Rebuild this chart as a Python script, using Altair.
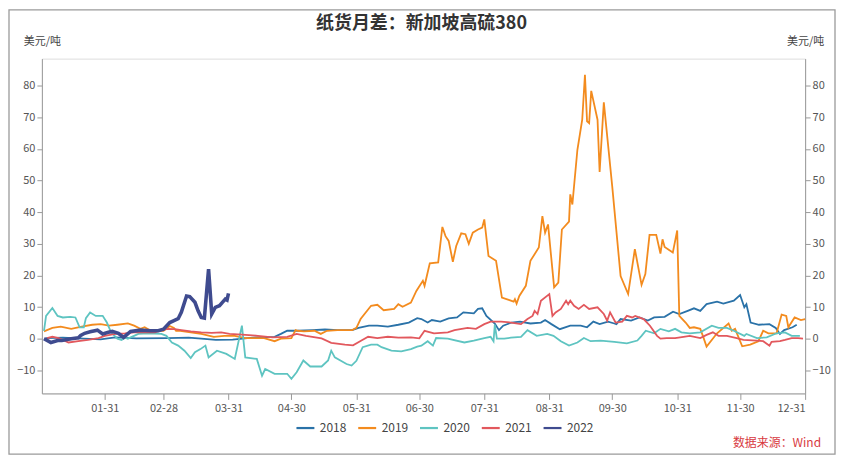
import altair as alt
import pandas as pd

# ---- data (day of year, 0 = Jan 1; value in USD/t) ----
days_2018 = [2, 10, 20, 28, 35, 45, 60, 70, 76, 83, 91, 98, 103, 111, 114, 117, 122, 129, 135, 141, 148, 151, 156, 160, 165, 170, 175, 179, 181, 184, 186, 190, 194, 198, 201, 206, 208, 210, 212, 216, 218, 220, 224, 228, 233, 238, 240, 243, 247, 252, 257, 260, 263, 266, 270, 273, 274, 276, 281, 285, 289, 292, 297, 301, 304, 308, 311, 314, 317, 322, 325, 330, 333, 335, 336, 338, 342, 347, 350, 352, 354, 358, 360]
vals_2018 = [0.2, 0.3, 0, -0.2, 0.4, 0.1, 0.2, 0.3, 0, -0.4, -0.3, 0.2, 0.4, 0.6, 1.5, 2.5, 2.5, 2.7, 2.9, 2.7, 2.7, 3.4, 4.1, 4.1, 3.8, 4.4, 5.1, 6.5, 6.2, 5.1, 5.9, 5.4, 6.4, 6.7, 8.3, 8.0, 9.4, 9.6, 7.2, 4.8, 2.7, 4.1, 5.1, 5.4, 4.8, 5.1, 5.9, 4.6, 3.0, 4.1, 4.1, 3.6, 5.4, 4.6, 5.4, 4.8, 4.6, 6.2, 5.7, 6.7, 5.7, 6.7, 6.9, 8.5, 7.8, 8.8, 9.6, 8.8, 10.9, 11.7, 11.1, 12.0, 13.8, 9.9, 10.9, 5.1, 4.4, 4.6, 3.4, 1.5, 2.7, 3.6, 4.4]

days_2019 = [1, 5, 9, 14, 19, 24, 28, 32, 36, 41, 44, 47, 49, 52, 58, 61, 63, 64, 66, 71, 76, 82, 87, 92, 97, 102, 106, 111, 114, 119, 121, 122, 125, 130, 133, 136, 141, 148, 150, 152, 157, 160, 163, 168, 170, 172, 176, 178.6, 181.7, 182.5, 185, 189, 191, 192.5, 194, 196, 197.6, 200, 202, 203.6, 205.5, 208, 210, 211, 213, 216.6, 219.4, 223, 225, 225.6, 226.4, 227.7, 230.8, 233, 237, 238.7, 240, 241.4, 244.3, 246.3, 248, 251.4, 252, 253, 255.4, 257.7, 259, 260, 261, 262, 265, 266, 268, 272, 276, 279.6, 282.8, 286, 287.8, 289.8, 293, 295, 296, 297, 300.9, 303, 304, 307, 309, 311, 314, 315.5, 317, 322, 327.5, 329, 330.6, 334, 337.8, 341.7, 344, 346.5, 350.4, 352.8, 355, 356, 359, 362, 364]
vals_2019 = [2.3, 3.4, 3.8, 3.1, 3.8, 4.4, 4.6, 4.1, 4.4, 4.8, 4.1, 3.1, 3.6, 2.5, 2.5, 4.0, 3.4, 2.5, 2.5, 2.0, 1.5, 0.6, 0.9, 0.9, 0.2, 0.2, 0.2, -0.8, 0, 0.2, 2.7, 2.5, 2.3, 2.5, 1.5, 2.5, 2.7, 2.7, 3.4, 6.2, 10.4, 10.7, 9.0, 9.4, 10.9, 10.1, 11.4, 15.1, 18.3, 16.7, 23.8, 24.1, 35.3, 32.4, 30.9, 24.3, 29.3, 33.3, 33, 30, 33.5, 34.5, 35.1, 37.7, 26.1, 24.6, 13, 12.2, 11.7, 12.5, 11.1, 13.5, 16.7, 24.6, 28.8, 38.7, 33.5, 36.1, 16.2, 17.7, 34.5, 37.0, 45.6, 42.4, 59.7, 69.2, 83.4, 68.7, 68.1, 78.3, 69.2, 52.7, 74.7, 48.2, 19.8, 14.1, 28.3, 17, 20.4, 32.8, 32.8, 26.9, 31.4, 29, 27.2, 34.2, 7.2, 5.1, 3.4, 3.6, 3.1, 0.4, -2.5, 1.7, 4.8, 2.5, 3.1, -2.4, -1.9, -0.8, 2.5, 1.7, 1.7, 7.6, 7.2, 3.6, 6.7, 5.9, 6.2]

days_2020 = [1, 2, 5, 7.5, 10, 13.5, 16, 18, 20, 21, 23, 25.7, 29, 31, 33, 36, 38, 39.6, 41, 46, 50.7, 57, 59.4, 62, 65, 68, 71, 73, 75.6, 78, 79.5, 83.5, 88, 92, 95.4, 97, 102.5, 105, 106.5, 111, 117, 119, 121.5, 124.7, 128, 133.4, 136.5, 138, 139.7, 145.3, 147.7, 150, 153, 157, 160, 162, 166.7, 171.4, 176, 179, 181, 184, 186.5, 188, 193.6, 201.5, 206, 211, 214, 215.4, 216, 217, 220.5, 223.7, 228.5, 231.6, 236, 241, 244, 247.5, 251.4, 255.4, 258.5, 261.7, 266.5, 273, 279, 284, 286, 288, 292, 295, 299, 302, 305, 309, 314, 319.5, 322.7, 326.7, 330, 335, 336, 341, 345.7, 350.4, 354.4, 357.6, 361.5]
vals_2020 = [2.5, 7.2, 9.7, 7.2, 6.7, 6.9, 6.7, 3.6, 3.6, 6.5, 8.3, 7.2, 7.2, 5.1, 2.0, 0, -0.4, 0.3, 0, 1.5, 1.7, 1.5, 0.9, -1.2, -2.2, -3.8, -6.1, -4.3, -3.3, -2.2, -5.9, -3.8, -4.8, -6.4, 4.1, -5.9, -6.4, -11.7, -9.6, -11.1, -11.1, -12.7, -10.6, -6.9, -8.8, -8.8, -6.9, -3.8, -5.9, -8.0, -8.5, -7.0, -2.7, -1.9, -1.9, -2.7, -3.8, -4.0, -3.3, -2.5, -2.2, -0.8, -2.2, 0.2, 0, -1.2, -0.6, 0.2, 0.6, -0.8, 4.4, 0, 0, 0.3, 0.6, 2.7, 0.9, 1.5, 0.9, -0.8, -2.2, -1.2, 0.2, -0.8, -0.6, -1.0, -1.5, -0.6, 0.9, 2.5, 1.7, 3.1, 2.3, 3.1, 2.0, 1.7, 2.0, 4.1, 3.4, 3.4, 2.5, 0.9, 1.5, 0.2, 0.4, 1.7, 2.0, 0.9, 0.9]

days_2021 = [2.4, 5, 8, 12.7, 17.4, 22, 27, 30, 35, 39.6, 44, 54, 56.6, 60, 63.4, 66.5, 71, 76, 81, 85.5, 89.5, 95.4, 103, 110, 117, 121.5, 126, 133.4, 138, 144.5, 148.4, 152.4, 155.6, 160, 165, 170, 176, 180, 182.5, 187, 193.6, 196.8, 203, 207, 211, 214, 219, 223.7, 228.5, 231.6, 234, 235, 236.4, 238, 242, 243.5, 245, 247.5, 250, 251, 252, 253.8, 256, 258.5, 261, 265, 268, 269.6, 271, 273.6, 276.8, 279, 281.5, 283, 287, 290, 293.4, 295, 298, 302, 306, 309, 314, 317, 320, 322.7, 326.7, 331.4, 334.6, 341, 344, 347, 348, 352, 354.4, 357.6, 360.7, 363]
vals_2021 = [0.2, 0.6, 0.2, -1.2, -0.8, -0.4, 0.2, 0.9, 1.5, 1.7, 2.0, 2.0, 2.6, 3.1, 3.0, 2.7, 2.3, 2.0, 1.8, 2.0, 1.5, 1.3, 0.9, 0.4, 0.6, 1.5, 0.9, 0.1, -1.3, -1.9, -2.1, -0.6, 0.6, 0.2, 0.6, 0.3, 0.4, 0.1, 2.5, 1.7, 2.0, 2.7, 3.4, 3.1, 4.6, 5.4, 5.4, 5.1, 4.6, 6.2, 7.2, 8.8, 7.8, 12.0, 14.1, 7.2, 8.3, 9.4, 12.0, 10.9, 12.0, 10.4, 9.4, 10.7, 9.4, 9.9, 7.8, 5.7, 8.3, 5.1, 5.4, 7.2, 6.7, 7.2, 6.2, 4.1, 0.9, 0, 0.2, 0.2, 0.6, 0.9, 0.2, 1.2, 2.0, 0.9, 0.9, 0.2, -0.4, -0.6, -0.8, -2.2, -1.0, -0.8, -0.4, 0.2, 0.2, 0]

days_2022 = [1, 4.3, 7.5, 9.5, 14, 17.4, 18.5, 20.4, 23, 26.5, 29, 31.7, 33.6, 36.5, 39, 42.3, 47, 51.8, 55.5, 58, 61, 63, 65, 66.5, 69, 70.5, 73, 74.5, 76, 77.5, 79.5, 81, 82.7, 84.7, 86, 87.5, 88.3, 89]
vals_2022 = [0, -1.2, -0.6, -0.6, 0, 0.3, 1.0, 1.7, 2.2, 2.7, 1.5, 2.0, 2.3, 1.7, 0.4, 2.3, 2.7, 2.5, 2.5, 3.0, 5.1, 5.7, 6.3, 8.3, 13.5, 13.3, 11.5, 8.8, 6.7, 6.5, 22, 7.8, 9.9, 10.4, 11.4, 12.5, 12.2, 14.3]

years = ["2018", "2019", "2020", "2021", "2022"]
colors = ["#2a72a8", "#f38b1e", "#5ec4c1", "#e2585d", "#3f4b8f"]

x_tick_days = [30, 58, 89, 119, 150, 180, 211, 242, 272, 303, 333, 364]
x_tick_labels = ["01-31", "02-28", "03-31", "04-30", "05-31", "06-30",
                 "07-31", "08-31", "09-30", "10-31", "11-30", "12-31"]
y_ticks = [-10, 0, 10, 20, 30, 40, 50, 60, 70, 80]

title_text = "纸货月差：新加坡高硫380"
unit_text = "美元/吨"
source_text = "数据来源：Wind"

# ---- build table ----
rows = []
for yr, ds, vs in zip(years, [days_2018, days_2019, days_2020, days_2021, days_2022],
                      [vals_2018, vals_2019, vals_2020, vals_2021, vals_2022]):
    for d, v in zip(ds, vs):
        rows.append({"year": yr, "day": d, "value": v})
df = pd.DataFrame(rows)

FONT = "Noto Sans CJK SC"
label_expr = "[" + ",".join("'%s'" % s for s in x_tick_labels) + "][indexof([" + \
    ",".join(str(d) for d in x_tick_days) + "], datum.value)]"

x_enc = alt.X("day:Q", scale=alt.Scale(domain=[0, 364], nice=False, zero=False),
              axis=alt.Axis(values=x_tick_days, labelExpr=label_expr, title=None, grid=False,
                            domainColor="#9a9a9a", tickColor="#9a9a9a", tickSize=6,
                            labelColor="#555555", labelFontSize=11, labelFont=FONT,
                            labelPadding=3))
y_scale = alt.Scale(domain=[-17.3, 88.5], nice=False, zero=False)

def y_axis(orient):
    return alt.Axis(orient=orient, values=y_ticks, grid=False, title=unit_text,
                    titleAngle=0, titleX=0, titleY=-12, titleAlign="center",
                    titleBaseline="bottom", titleFont=FONT, titleFontSize=11,
                    titleFontWeight="normal", titleColor="#444444",
                    domainColor="#9a9a9a", tickColor="#9a9a9a", tickSize=5,
                    labelColor="#555555", labelFontSize=11, labelFont=FONT, labelPadding=2)

color_enc = alt.Color("year:N", scale=alt.Scale(domain=years, range=colors),
                      legend=alt.Legend(orient="none", legendX=254, legendY=360,
                                        direction="horizontal", title=None,
                                        symbolType="stroke", symbolSize=324,
                                        symbolStrokeWidth=2.2, labelFont=FONT,
                                        labelFontSize=12, labelColor="#444444",
                                        labelOffset=4, columnPadding=7))

others = alt.Chart(df[df["year"] != "2022"]).mark_line(strokeWidth=1.8).encode(
    x=x_enc, y=alt.Y("value:Q", scale=y_scale, axis=y_axis("left")), color=color_enc,
    detail="year:N")
recent = alt.Chart(df[df["year"] == "2022"]).mark_line(strokeWidth=3.6).encode(
    x=x_enc, y=alt.Y("value:Q", scale=y_scale, axis=y_axis("left")), color=color_enc)
left = alt.layer(others, recent)

right = alt.Chart(df[df["year"] == "2022"]).mark_point(opacity=0).encode(
    x=x_enc, y=alt.Y("value:Q", scale=y_scale, axis=y_axis("right")))

src = alt.Chart(pd.DataFrame({"t": [source_text]})).mark_text(
    align="right", baseline="middle", color="#d83a3f", fontSize=12, font=FONT).encode(
    text="t:N", x=alt.value(782), y=alt.value(386))

ttl = alt.Chart(pd.DataFrame({"t": [title_text]})).mark_text(
    align="center", baseline="middle", color="#333333", fontSize=18, fontWeight="bold",
    font=FONT).encode(text="t:N", x=alt.value(381), y=alt.value(-35))

frame = alt.Chart(pd.DataFrame({"f": [0]})).mark_rect(
    fillOpacity=0, stroke="#9a9a9a", strokeWidth=1.3).encode(
    x=alt.value(-33), x2=alt.value(796), y=alt.value(-49), y2=alt.value(397))

chart = alt.layer(left, right, src, ttl, frame).resolve_scale(y="independent").properties(
    width=766, height=336, padding=0
).configure_view(stroke=None).configure(background="white")

chart.save("out.html", embed_options={"renderer": "svg", "actions": False})
